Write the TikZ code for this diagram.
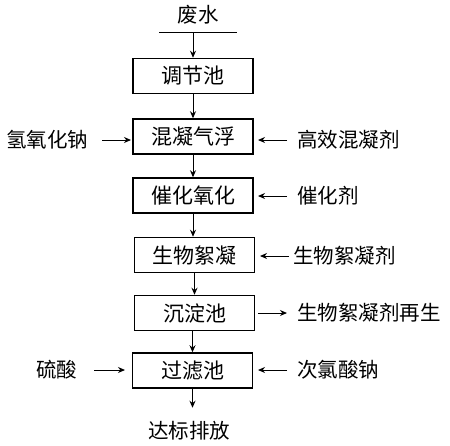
\documentclass[tikz,border=0pt]{standalone}
\usepackage{fontspec}
\setmainfont{Noto Sans CJK SC}
\usetikzlibrary{arrows.meta}
\begin{document}
\begin{tikzpicture}[x=1pt,y=-1pt,
  box/.style={draw,line width=1.5pt,minimum width=120pt,minimum height=35pt,inner sep=0pt,font=\fontsize{21}{21}\selectfont},
  lbl/.style={inner sep=0pt,font=\fontsize{20.5}{20.5}\selectfont},
  arr/.style={-{Stealth[length=7pt,width=6pt]},line width=1pt}]
\useasboundingbox (0,0) rectangle (450,445);
\node[lbl] (in) at (198,15) {废水};
\coordinate (l1) at (159,32);
\coordinate (l2) at (237,32);
\coordinate (lm) at (193,32);
\draw[line width=1pt] (l1) -- (l2);
\node[box] (b1) at (193,76) {调节池};
\node[box] (b2) at (193,136.5) {混凝气浮};
\node[box] (b3) at (193,195.5) {催化氧化};
\node[box] (b4) at (194.5,255) {生物絮凝};
\node[box] (b5) at (194.5,313) {沉淀池};
\node[box] (b6) at (192.5,370.5) {过滤池};
\node[lbl] (out) at (189,431) {达标排放};
\draw[arr] (lm) -- (b1.north);
\draw[arr] (b1) -- (b2);
\draw[arr] (b2.south) -- (b2.south|-b3.north);
\draw[arr] (b3.south) -- (b3.south|-b4.north);
\draw[arr] (b4) -- (b5);
\draw[arr] (b5.south-|b6) -- (b6.north);
\draw[arr] (b6.south) -- ++(0,19) coordinate (o1);
% side labels
\node[lbl,anchor=west] (n1) at (6,140) {氢氧化钠};
\node[lbl,anchor=west] (n2) at (297,140) {高效混凝剂};
\node[lbl,anchor=west] (n3) at (297,196) {催化剂};
\node[lbl,anchor=west] (n4) at (293,256) {生物絮凝剂};
\node[lbl,anchor=west] (n5) at (297,313) {生物絮凝剂再生};
\node[lbl,anchor=west] (n6) at (36,370) {硫酸};
\node[lbl,anchor=west] (n7) at (297,370) {次氯酸钠};
\coordinate (a1s) at (102,140); \coordinate (a1e) at (131,140);
\draw[arr] (a1s) -- (a1e);
\coordinate (a2s) at (287,140); \coordinate (a2e) at (258,140);
\draw[arr] (a2s) -- (a2e);
\coordinate (a3s) at (287,196); \coordinate (a3e) at (258,196);
\draw[arr] (a3s) -- (a3e);
\coordinate (a4s) at (289,256); \coordinate (a4e) at (260,256);
\draw[arr] (a4s) -- (a4e);
\coordinate (a5s) at (258,313); \coordinate (a5e) at (287,313);
\draw[arr] (a5s) -- (a5e);
\coordinate (a6s) at (94,370); \coordinate (a6e) at (125,370);
\draw[arr] (a6s) -- (a6e);
\coordinate (a7s) at (287,370); \coordinate (a7e) at (258,370);
\draw[arr] (a7s) -- (a7e);
\end{tikzpicture}
\end{document}
